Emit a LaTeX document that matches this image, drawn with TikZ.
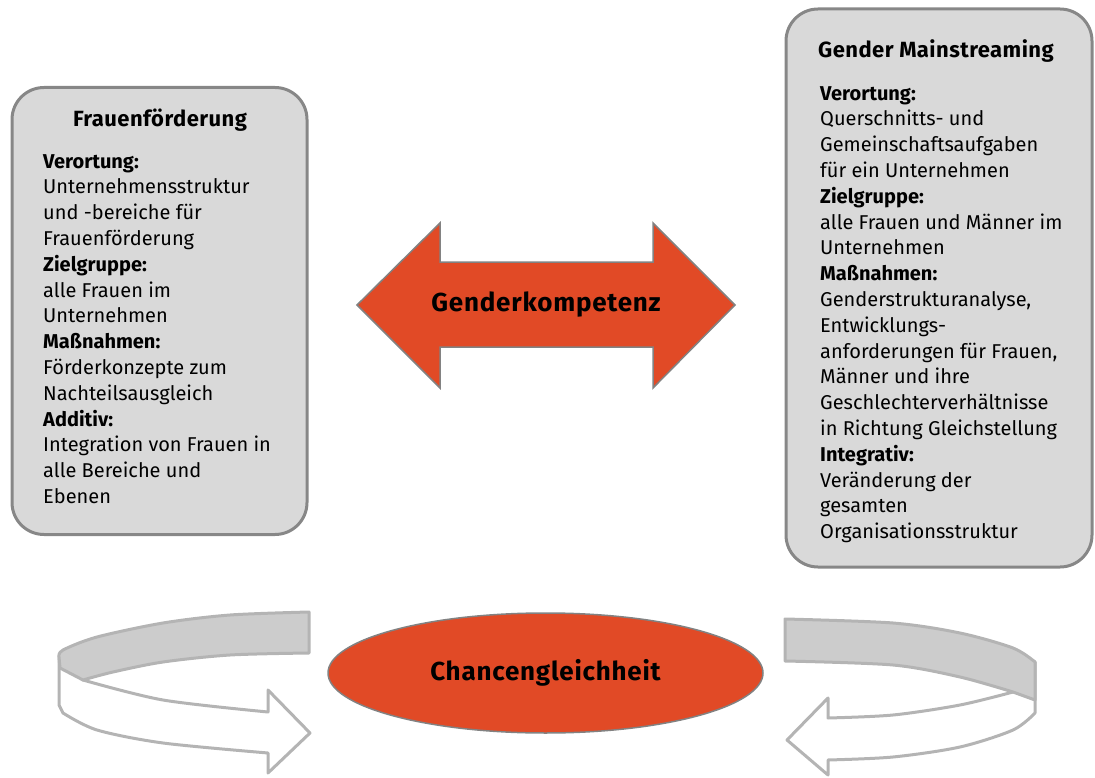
\documentclass[tikz,border=0pt]{standalone}
\usepackage{fontspec}
\setmainfont{Fira Sans}
\usetikzlibrary{shapes.geometric}
\definecolor{accent}{RGB}{225,74,38}
\definecolor{boxfill}{RGB}{217,217,217}
\definecolor{boxline}{RGB}{135,135,135}
\definecolor{ribfill}{RGB}{204,204,204}
\definecolor{ribline}{RGB}{180,180,180}
\definecolor{shapeline}{RGB}{130,130,130}
\newcommand{\lbl}[1]{\textbf{#1}}
\tikzset{
  gbox/.style={draw=boxline, line width=3pt, fill=boxfill, rounded corners=32pt, inner sep=0pt},
  bodytext/.style={font=\fontsize{20}{25.8}\selectfont, align=left, inner sep=0pt, anchor=north west},
  headtext/.style={font=\fontsize{22}{26}\selectfont\bfseries\addfontfeatures{LetterSpace=2}, inner sep=0pt},
  redshape/.style={fill=accent, draw=shapeline, line width=1.5pt},
  bigtext/.style={font=\fontsize{26}{30}\selectfont\bfseries\addfontfeatures{LetterSpace=3}, inner sep=0pt},
  ribgray/.style={fill=ribfill, draw=ribline, line width=3pt, line join=round},
  ribwhite/.style={fill=white, draw=ribline, line width=3pt, line join=round},
}
\begin{document}
\begin{tikzpicture}[x=1pt,y=-1pt]
\useasboundingbox (0,0) rectangle (1095,778);
% boxes
\node[gbox, minimum width=295pt, minimum height=447pt] (lbox) at (159.5,311) {};
\node[gbox, minimum width=306pt, minimum height=558pt] (rbox) at (939,288) {};
\node[headtext, anchor=base] (lhead) at (160,127) {Frauenförderung};
\node[bodytext] (ltext) at (43,154) {\lbl{Verortung:}\\Unternehmensstruktur\\und -bereiche für\\Frauenförderung\\\lbl{Zielgruppe:}\\alle Frauen im\\Unternehmen\\\lbl{Maßnahmen:}\\Förderkonzepte zum\\Nachteilsausgleich\\\lbl{Additiv:}\\Integration von Frauen in\\alle Bereiche und\\Ebenen};
\node[headtext, anchor=base west] (rhead) at (818,58) {Gender Mainstreaming};
\node[bodytext] (rtext) at (820,86) {\lbl{Verortung:}\\Querschnitts- und\\Gemeinschaftsaufgaben\\für ein Unternehmen\\\lbl{Zielgruppe:}\\alle Frauen und Männer im\\Unternehmen\\\lbl{Maßnahmen:}\\Genderstrukturanalyse,\\Entwicklungs-\\anforderungen für Frauen,\\Männer und ihre\\Geschlechterverhältnisse\\in Richtung Gleichstellung\\\lbl{Integrativ:}\\Veränderung der\\gesamten\\Organisationsstruktur};
% double arrow
\draw[redshape] (357,305) -- (440,223) -- (440,262) -- (653,262) -- (653,223) -- (735,305) -- (653,388) -- (653,347) -- (440,347) -- (440,388) -- cycle;
\node[bigtext] (gk) at (546,305) {Genderkompetenz};
% ellipse
\node[ellipse, redshape, minimum width=435pt, minimum height=120pt, inner sep=0pt] (cg) at (545.5,673) {};
\node[bigtext] (cgt) at (cg) {Chancengleichheit};
% left ribbon
\draw[ribwhite] (59,657) -- (59,705) -- plot[smooth] coordinates {(63,713) (97,730) (163,743) (268,753)} -- (268,773) -- (310,733) -- (268,690) -- (268,712) -- plot[smooth] coordinates {(268,712) (163,700) (83,680)} -- cycle;
\draw[ribgray] plot[smooth] coordinates {(309,612) (230,615) (163,623) (97,637) (63,650) (59,657)} -- (60,668) -- plot[smooth] coordinates {(83,680) (113,672) (163,662) (230,655) (309,653)} -- cycle;
% right ribbon
\draw[ribwhite] (1035,662) -- (1035,713) -- plot[smooth] coordinates {(1035,713) (1013,730) (960,747) (893,757) (828,760)} -- (828,775) -- (787,740) -- (828,698) -- (828,718) -- plot[smooth] coordinates {(828,718) (893,715) (960,705) (1013,692)} -- cycle;
\draw[ribgray] plot[smooth] coordinates {(785,619) (893,623) (960,633) (1013,648) (1035,662)} -- (1035,700) -- plot[smooth] coordinates {(1013,692) (960,677) (893,665) (785,661)} -- cycle;
\end{tikzpicture}
\end{document}
